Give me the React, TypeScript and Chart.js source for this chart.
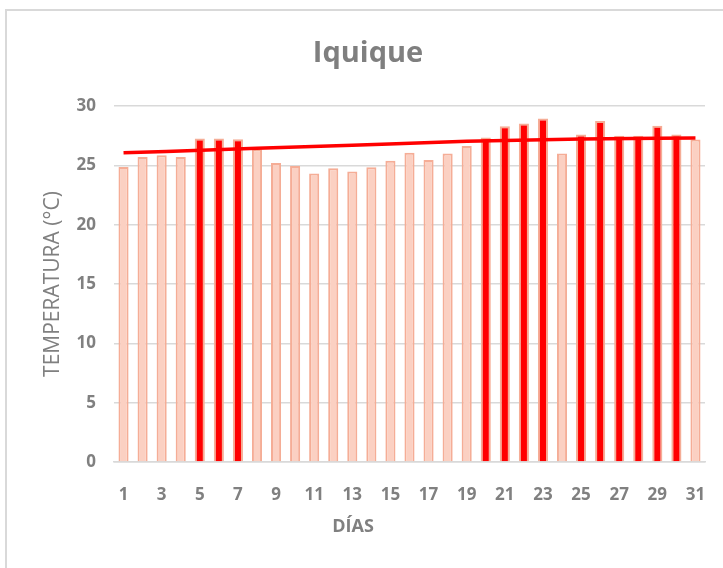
import React, { useEffect, useRef } from "react";
import { Chart, registerables } from "chart.js";

Chart.register(...registerables);

const days: string[] = [
  "1", "2", "3", "4", "5", "6", "7", "8", "9", "10",
  "11", "12", "13", "14", "15", "16", "17", "18", "19", "20",
  "21", "22", "23", "24", "25", "26", "27", "28", "29", "30", "31",
];

const temperatures: number[] = [
  24.85, 25.7, 25.85, 25.7, 27.27, 27.27, 27.2, 26.35, 25.2, 24.95,
  24.32, 24.75, 24.47, 24.83, 25.38, 26.05, 25.45, 26.0, 26.62, 27.35,
  28.3, 28.53, 28.95, 26.0, 27.6, 28.73, 27.5, 27.5, 28.33, 27.6, 27.18,
];

// days highlighted in solid red
const hotDays: string[] = ["5", "6", "7", "20", "21", "22", "23", "25", "26", "27", "28", "29", "30"];

// trend line points
const trendDays: string[] = ["1", "8", "13", "19", "25", "31"];
const trendValues: number[] = [26.05, 26.43, 26.7, 27.02, 27.22, 27.3];

const yTicks: number[] = [0, 5, 10, 15, 20, 25, 30];

const chartTitle = "Iquique";
const xTitle = "DÍAS";
const yTitle = "TEMPERATURA (°C)";

const FONT = "'Open Sans', sans-serif";
const GRAY = "#808080";

const textPlugin = {
  id: "excelTexts",
  afterDraw(chart: any) {
    const ctx = chart.ctx;
    ctx.save();
    ctx.textAlign = "center";
    ctx.textBaseline = "middle";
    ctx.fillStyle = "#7f7f7f";
    ctx.font = `bold 29px ${FONT}`;
    ctx.fillText(chartTitle, 368, 54);
    ctx.fillStyle = GRAY;
    ctx.font = `bold 18px ${FONT}`;
    ctx.fillText(xTitle, 353, 527);
    ctx.restore();
  },
};

export default function App() {
  const canvasRef = useRef<HTMLCanvasElement | null>(null);

  useEffect(() => {
    const canvas = canvasRef.current;
    if (!canvas) return;
    const chart = new Chart(canvas, {
      type: "bar",
      data: {
        labels: days,
        datasets: [
          {
            type: "line",
            data: trendDays.map((d, i) => ({ x: d, y: trendValues[i] })),
            borderColor: "#ff0000",
            borderWidth: 3.5,
            pointRadius: 0,
            cubicInterpolationMode: "monotone",
            fill: false,
            order: 0,
          } as any,
          {
            type: "bar",
            data: temperatures,
            backgroundColor: days.map((d) => (hotDays.includes(d) ? "#ff0000" : "#fbd0c2")),
            borderColor: "#f5ad96",
            borderWidth: 2,
            barPercentage: 0.53,
            categoryPercentage: 1,
            order: 1,
          } as any,
        ],
      },
      options: {
        responsive: false,
        animation: false,
        layout: { padding: { left: 0, right: 18, top: 106, bottom: 0 } },
        plugins: {
          legend: { display: false },
          tooltip: { enabled: false },
          title: { display: false },
        },
        scales: {
          x: {
            type: "category",
            grid: { display: false },
            border: { display: true, color: "#d9d9d9", width: 1.5 },
            ticks: {
              autoSkip: false,
              maxRotation: 0,
              color: GRAY,
              padding: 15,
              font: { family: FONT, size: 17, weight: "bold" },
              callback: (_v: any, i: number) => (i % 2 === 0 ? days[i] : ""),
            },
            title: { display: false },
            afterFit: (s: any) => {
              s.height = 106;
            },
          },
          y: {
            min: 0,
            max: 30,
            afterBuildTicks: (s: any) => {
              s.ticks = yTicks.map((v) => ({ value: v }));
            },
            grid: { color: "#d9d9d9", lineWidth: 1.5, drawTicks: false },
            border: { display: false },
            ticks: {
              color: GRAY,
              padding: 18,
              font: { family: FONT, size: 17, weight: "bold" },
            },
            title: {
              display: true,
              text: yTitle,
              color: GRAY,
              font: { family: FONT, size: 21, weight: "normal" },
              padding: { top: 40, bottom: 0 },
            },
            afterFit: (s: any) => {
              s.width = 114;
            },
          },
        },
      },
      plugins: [textPlugin],
    });
    return () => chart.destroy();
  }, []);

  return (
    <div
      style={{
        position: "fixed",
        left: 0,
        top: 0,
        width: 723,
        height: 568,
        background: "#ffffff",
        overflow: "hidden",
      }}
    >
      <div
        style={{
          position: "absolute",
          left: 5,
          top: 9,
          width: 760,
          height: 620,
          border: "2px solid #d9d9d9",
          boxSizing: "border-box",
        }}
      />
      <canvas
        ref={canvasRef}
        width={723}
        height={568}
        style={{ position: "absolute", left: 0, top: 0, width: 723, height: 568 }}
      />
    </div>
  );
}
